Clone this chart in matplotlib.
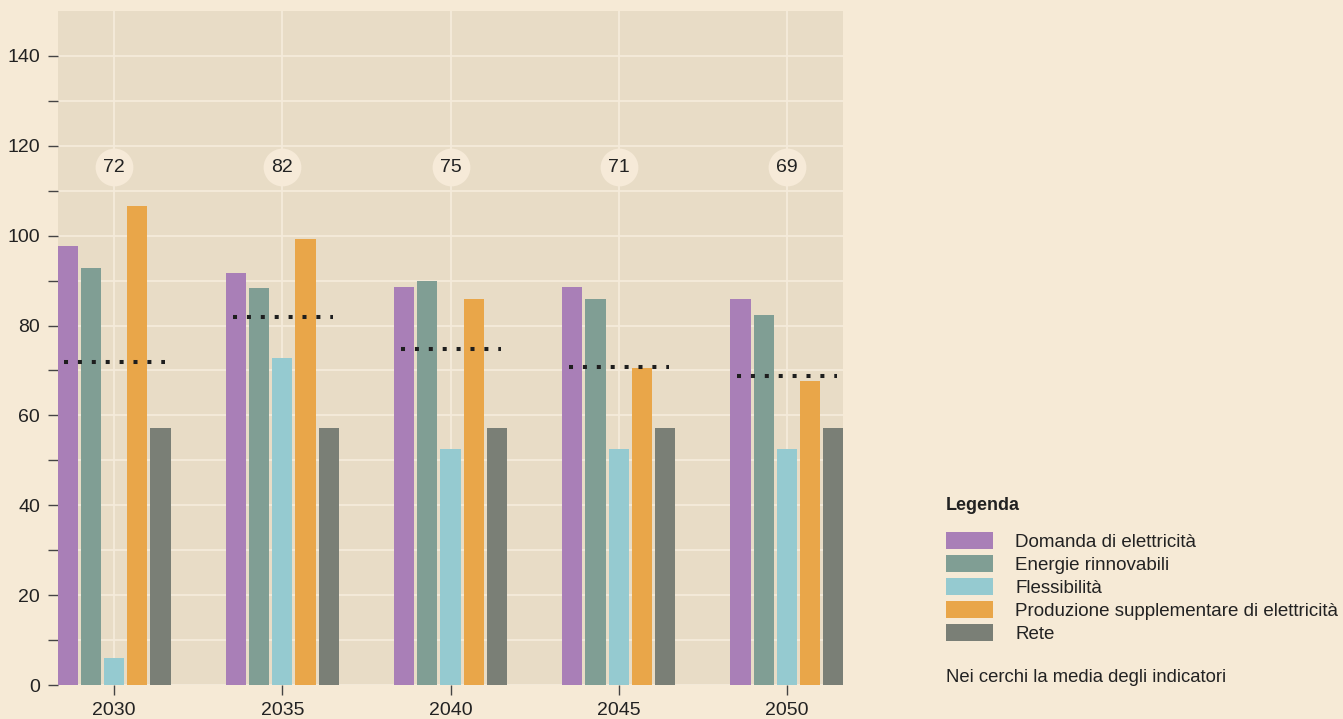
import matplotlib
matplotlib.use("Agg")
import matplotlib.pyplot as plt
import numpy as np

years = [2030, 2035, 2040, 2045, 2050]
series = ["Domanda di elettricità", "Energie rinnovabili", "Flessibilità",
          "Produzione supplementare di elettricità", "Rete"]
domanda = [97.8, 91.8, 88.6, 88.6, 86.0]
rinnovabili = [92.9, 88.4, 89.8, 86.0, 82.4]
flessibilita = [6.0, 72.8, 52.6, 52.6, 52.6]
produzione = [106.5, 99.3, 86.0, 70.6, 67.7]
rete = [57.2, 57.2, 57.2, 57.2, 57.2]
medie = [72, 82, 75, 71, 69]

colors = ["#A97FB7", "#809E94", "#95CAD0", "#E9A649", "#7A7F76"]
BG = "#F6EAD6"
AX_BG = "#E8DCC6"
GRID = "#F5EBDB"
TXT = "#222222"

plt.rcParams["font.family"] = ["Liberation Sans", "DejaVu Sans"]

fig = plt.figure(figsize=(13.43, 7.19), dpi=100, facecolor=BG)
ax = fig.add_axes([58 / 1343, 34 / 719, 785 / 1343, 674 / 719])
ax.set_facecolor(AX_BG)

data = [domanda, rinnovabili, flessibilita, produzione, rete]
x = np.array(years, dtype=float)
offsets = [-1.38, -0.69, 0.0, 0.69, 1.38]
for vals, off, c, lab in zip(data, offsets, colors, series):
    ax.bar(x + off, vals, width=0.6, color=c, label=lab, zorder=3)

# dotted average lines and circles
for xi, m in zip(x, medie):
    ax.hlines(m - 0.2, xi - 1.48, xi + 1.5, colors="#1E1E1E", lw=2.9,
              linestyles=(0, (1, 2.45)), zorder=4)
    ax.scatter([xi], [115.3], s=740, color="#F6EAD8", zorder=4, lw=0)
    ax.text(xi, 115.1, str(m), ha="center", va="center", fontsize=14,
            color=TXT, zorder=5)

ax.set_xlim(2028.33, 2051.67)
ax.set_ylim(0, 150)
ax.set_xticks(years)
ax.set_yticks(range(0, 141, 20))
ax.set_yticks(range(10, 141, 20), minor=True)
ax.tick_params(axis="both", which="both", direction="out", length=7,
               width=1, color="#444444", labelsize=14, labelcolor=TXT)
ax.tick_params(axis="y", pad=6)
ax.tick_params(axis="x", pad=5)
for s in ax.spines.values():
    s.set_visible(False)
ax.grid(True, which="both", axis="y", color=GRID, lw=1.3, zorder=0)
ax.grid(True, which="major", axis="x", color=GRID, lw=1.3, zorder=0)
ax.set_axisbelow(True)

fig.text(946 / 1343, 1 - 506 / 719, "Legenda", fontsize=13, fontweight="bold",
         color=TXT, ha="left", va="center")
fig.legend(loc="upper left", bbox_to_anchor=(946 / 1343, 1 - 532 / 719),
           frameon=False, fontsize=13.5, handlelength=2.5, handleheight=1.0,
           labelspacing=0.22, handletextpad=1.2, borderpad=0, borderaxespad=0,
           labelcolor=TXT)
fig.text(946 / 1343, 1 - 678 / 719, "Nei cerchi la media degli indicatori",
         fontsize=13.3, color=TXT, ha="left", va="center")

fig.savefig("out.png", dpi=100, facecolor=BG)
